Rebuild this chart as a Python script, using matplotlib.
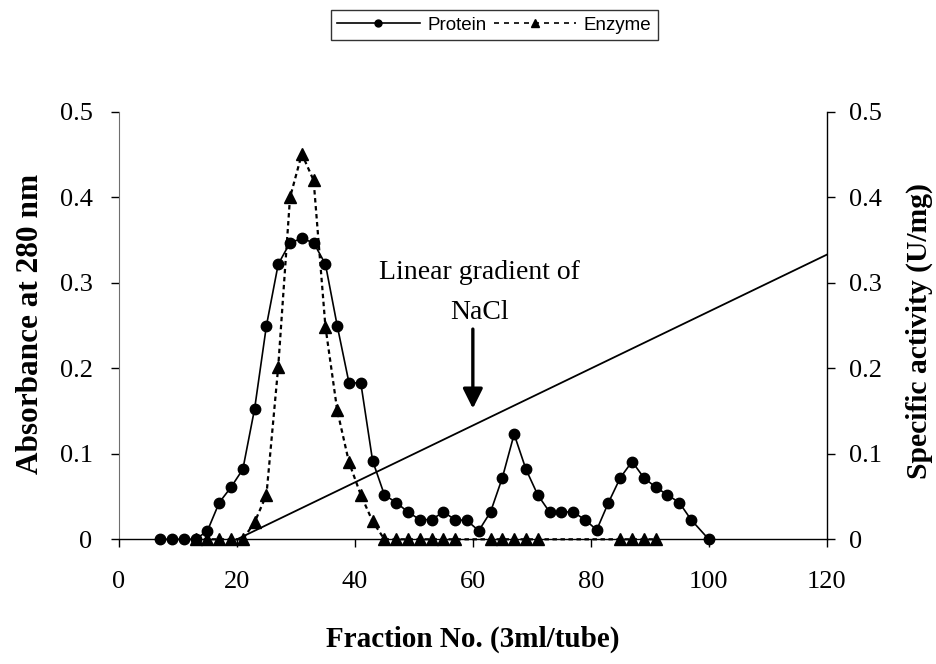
import matplotlib

matplotlib.use("Agg")

import matplotlib.pyplot as plt
from matplotlib.lines import Line2D

# fraction numbers and readings taken off the reference chart
protein_fraction = [7, 9, 11, 13, 15, 17, 19, 21, 23, 25, 27, 29, 31, 33, 35, 37, 39, 41, 43, 45,
                    47, 49, 51, 53, 55, 57, 59, 61, 63, 65, 67, 69, 71, 73, 75, 77, 79, 81, 83,
                    85, 87, 89, 91, 93, 95, 97, 100]
protein_abs = [0, 0, 0, 0, 0.01, 0.043, 0.061, 0.082, 0.153, 0.25, 0.322, 0.347, 0.352, 0.347,
               0.322, 0.25, 0.183, 0.183, 0.092, 0.052, 0.043, 0.032, 0.023, 0.023, 0.032, 0.023,
               0.022, 0.01, 0.032, 0.072, 0.123, 0.082, 0.052, 0.032, 0.032, 0.032, 0.023, 0.011,
               0.043, 0.072, 0.091, 0.072, 0.061, 0.052, 0.043, 0.023, 0]

enzyme_fraction = [13, 15, 17, 19, 21, 23, 25, 27, 29, 31, 33, 35, 37, 39, 41, 43, 45, 47, 49, 51,
                   53, 55, 57, 63, 65, 67, 69, 71, 85, 87, 89, 91]
enzyme_activity = [0, 0, 0, 0, 0, 0.02, 0.052, 0.202, 0.4, 0.451, 0.42, 0.249, 0.151, 0.09, 0.052,
                   0.021, 0, 0, 0, 0, 0, 0, 0, 0, 0, 0, 0, 0, 0, 0, 0, 0]

gradient_fraction = [20, 120]
gradient_level = [0, 0.333]

x_ticks = [0, 20, 40, 60, 80, 100, 120]
y_ticks = [0, 0.1, 0.2, 0.3, 0.4, 0.5]

SERIF = "Liberation Serif"
SANS = "Liberation Sans"

W, H = 937, 664
fig = plt.figure(figsize=(W / 100, H / 100), dpi=100)
ax = fig.add_axes([119 / W, 1 - 539.3 / H, (826.7 - 119) / W, (539.3 - 112) / H])

ax.plot(protein_fraction, protein_abs, color="black", lw=1.2, marker="o", ms=7.5,
        zorder=3, clip_on=False)
ax.plot(enzyme_fraction, enzyme_activity, color="black", lw=1.6, ls=(0, (2, 1.6)),
        marker="^", ms=8.6, zorder=3, clip_on=False)
ax.plot(gradient_fraction, gradient_level, color="black", lw=1.3, zorder=2, clip_on=False)

ax.set_xlim(0, 120)
ax.set_ylim(0, 0.5)
ax.set_xticks(x_ticks)
ax.set_yticks(y_ticks)
ax.set_xticklabels([str(v) for v in x_ticks])
ax.set_yticklabels(["0"] + [f"{v:.1f}" for v in y_ticks[1:]])
ax.spines["top"].set_visible(False)
ax.spines["right"].set_visible(False)
ax.spines["left"].set_color("#6e6e6e")
ax.spines["bottom"].set_linewidth(1.0)
ax.tick_params(axis="x", direction="out", length=6, width=1, pad=17, labelsize=19)
ax.tick_params(axis="y", direction="out", length=6, width=1, pad=13, labelsize=19)
for lbl in ax.get_xticklabels() + ax.get_yticklabels():
    lbl.set_fontfamily(SERIF)

ax2 = ax.twinx()
ax2.set_ylim(0, 0.5)
ax2.set_yticks(y_ticks)
ax2.set_yticklabels(["0"] + [f"{v:.1f}" for v in y_ticks[1:]])
for side in ("top", "left", "bottom"):
    ax2.spines[side].set_visible(False)
ax2.spines["right"].set_linewidth(1.0)
ax2.tick_params(axis="y", direction="out", length=6, width=1, pad=10, labelsize=19)
for lbl in ax2.get_yticklabels():
    lbl.set_fontfamily(SERIF)

# gradient annotation
ax.annotate("", xy=(60, 0.153), xytext=(60, 0.246),
            arrowprops=dict(arrowstyle="-|>,head_length=0.6,head_width=0.3", lw=2.4,
                            color="black", mutation_scale=20, shrinkA=0, shrinkB=0))
ax.text(61.2, 0.305, "Linear gradient of", ha="center", va="baseline", fontsize=20, family=SERIF)
ax.text(61.2, 0.2575, "NaCl", ha="center", va="baseline", fontsize=20, family=SERIF)

fig.text(472.5 / W, 1 - 647 / H, "Fraction No. (3ml/tube)", ha="center", va="baseline",
         fontsize=21, fontweight="bold", family=SERIF)
fig.text(31 / W, 1 - 324 / H, "Absorbance at 280 nm", ha="center", va="center", rotation=90,
         fontsize=22.5, fontweight="bold", family=SERIF)
fig.text(919 / W, 1 - 331.5 / H, "Specific activity (U/mg)", ha="center", va="center", rotation=90,
         fontsize=21.3, fontweight="bold", family=SERIF)

handles = [
    Line2D([], [], color="black", lw=1.2, marker="o", ms=5),
    Line2D([], [], color="black", lw=1.2, ls=(0, (3, 3)), marker="^", ms=6),
]
leg = fig.legend(handles, ["Protein", "Enzyme"], loc="center", ncol=2,
                 bbox_to_anchor=(494.4 / W, 1 - 25 / H), frameon=True, fancybox=False,
                 edgecolor="black", handlelength=4.4, columnspacing=0.4, handletextpad=0.4,
                 borderpad=0.35, borderaxespad=0, prop={"family": SANS, "size": 13.5})
leg.get_frame().set_linewidth(1.0)

fig.savefig("out.png", dpi=100)
